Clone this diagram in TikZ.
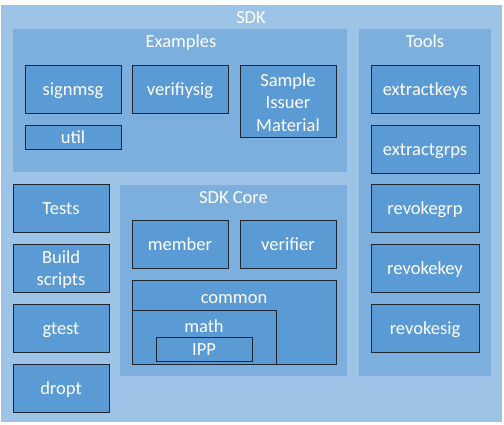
\documentclass[tikz,border=0pt]{standalone}
\usepackage{fontspec}
\setmainfont{Carlito}
\definecolor{outerbg}{HTML}{9DC3E6}
\definecolor{midbg}{HTML}{7CAFDD}
\definecolor{boxbg}{HTML}{5B9BD5}
\definecolor{edge}{HTML}{1E2630}
\begin{document}
\begin{tikzpicture}[x=1pt,y=-1pt,
  txt/.style={font=\fontsize{18.5}{22.5}\selectfont, text=white, inner sep=0pt},
  lbl/.style={txt, text height=12pt, text depth=0pt},
  area/.style={anchor=north west, inner sep=0pt, outer sep=0pt},
  region/.style={area, fill=midbg},
  box/.style={area, fill=boxbg, draw=edge, line width=1pt, lbl, align=center},
  mlbl/.style={txt, align=center}
]
\useasboundingbox (0,0) rectangle (504,424);
\fill[white] (0,0) rectangle (504,424);
\node[area, fill=outerbg, minimum width=501pt, minimum height=417pt] (sdk) at (1,5) {};
\node[lbl] (sdkt) at (251,17) {SDK};

\node[region, minimum width=334pt, minimum height=143pt] (examples) at (13,29) {};
\node[lbl] (examplest) at (181,41.5) {Examples};
\node[region, minimum width=132pt, minimum height=347pt] (tools) at (359,29) {};
\node[lbl] (toolst) at (425,41.5) {Tools};
\node[region, minimum width=227pt, minimum height=191pt] (core) at (120,185) {};
\node[lbl] (coret) at (233.5,197.5) {SDK Core};

\node[box, minimum width=96pt, minimum height=48pt] (signmsg) at (25,65) {signmsg};
\node[box, minimum width=96pt, minimum height=24pt] (util) at (25,125) {util};
\node[box, minimum width=96pt, minimum height=48pt] (verifiysig) at (132,65) {verifiysig};
\node[box, minimum width=96pt, minimum height=72pt] (sample) at (240,65) {};
\node[mlbl] (samplet) at (288,102.5) {Sample\\Issuer\\Material};

\node[box, minimum width=108pt, minimum height=48pt] (extractkeys) at (371,65) {extractkeys};
\node[box, minimum width=108pt, minimum height=48pt] (extractgrps) at (371,125) {extractgrps};
\node[box, minimum width=108pt, minimum height=48pt] (revokegrp) at (371,184) {revokegrp};
\node[box, minimum width=108pt, minimum height=48pt] (revokekey) at (371,244) {revokekey};
\node[box, minimum width=108pt, minimum height=48pt] (revokesig) at (371,304) {revokesig};

\node[box, minimum width=96pt, minimum height=48pt] (tests) at (13,184) {Tests};
\node[box, minimum width=96pt, minimum height=48pt] (build) at (13,244) {};
\node[mlbl] (buildt) at (61,269.5) {Build\\scripts};
\node[box, minimum width=96pt, minimum height=48pt] (gtest) at (13,304) {gtest};
\node[box, minimum width=96pt, minimum height=48pt] (dropt) at (13,364) {dropt};

\node[box, minimum width=96pt, minimum height=48pt] (member) at (132,220) {member};
\node[box, minimum width=96pt, minimum height=48pt] (verifier) at (240,220) {verifier};
\node[box, minimum width=204pt, minimum height=84pt] (common) at (132,280) {};
\node[lbl] (commont) at (234,297.5) {common};
\node[box, minimum width=144pt, minimum height=54pt] (math) at (132,310) {};
\node[lbl] (matht) at (204,326.5) {math};
\node[box, minimum width=96pt, minimum height=24pt] (ipp) at (156,337) {IPP};
\end{tikzpicture}
\end{document}
